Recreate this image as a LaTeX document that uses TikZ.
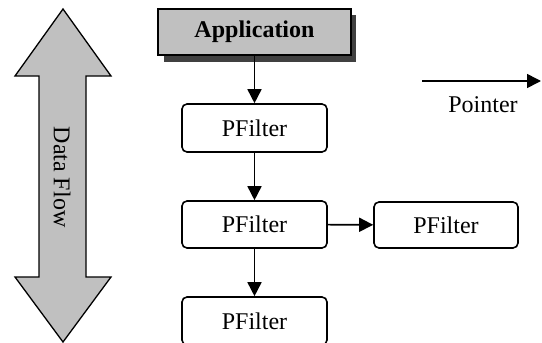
\documentclass[tikz,border=0pt]{standalone}
\usepackage{fontspec}
\setmainfont{Liberation Serif}
\usetikzlibrary{arrows.meta}
\definecolor{boxgray}{HTML}{C0C0C0}
\begin{document}
\begin{tikzpicture}[x=1pt,y=-1pt,
  font=\fontsize{24}{28}\selectfont,
  filterbox/.style={draw=black,line width=1.6pt,rounded corners=5pt,fill=white,
     minimum width=145pt,minimum height=48pt,inner sep=0pt},
  link/.style={line width=1.6pt,-{Triangle[length=14pt,width=14pt]}},
]
\useasboundingbox (0,0) rectangle (542,343);
% Data flow double arrow
\draw[line width=1.3pt,fill=boxgray,line join=miter]
  (63,9) -- (111,76) -- (86,76) -- (86,277) -- (111,277) -- (63,342)
  -- (15,277) -- (39,277) -- (39,76) -- (15,76) -- cycle;
\node[rotate=-90] (df) at (62,177) {Data Flow};
% Application with shadow
\fill[black!75] (164,15) rectangle (356,62);
\node[draw=black,line width=1.6pt,fill=boxgray,minimum width=193pt,minimum height=46pt,
  inner sep=0pt,font=\fontsize{24}{28}\selectfont\bfseries] (app) at (254.5,32) {Application};
% filters
\node[filterbox] (f1) at (254.5,128) {PFilter};
\node[filterbox,minimum height=47pt] (f2) at (254.5,224.5) {PFilter};
\node[filterbox] (f3) at (254.5,321) {PFilter};
\node[filterbox,minimum width=144pt,minimum height=46pt] (f4) at (446,225) {PFilter};
\draw[link] (app) -- (f1);
\draw[link] (f1) -- (f2);
\draw[link] (f2) -- (f3);
\draw[link] (f2) -- (f4);
% legend
\coordinate (p1) at (422,81);
\coordinate (p2) at (541,81);
\draw[link] (p1) -- (p2);
\node (pl) at (483,105) {Pointer};
\end{tikzpicture}
\end{document}
